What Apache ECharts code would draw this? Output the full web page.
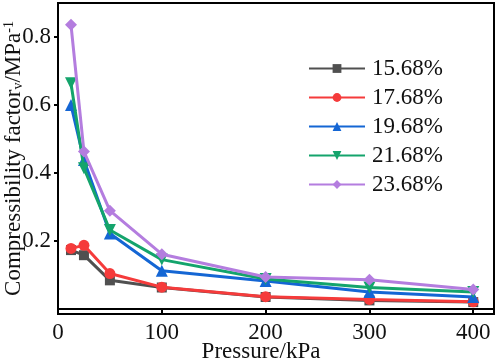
<!DOCTYPE html>
<html>
<head>
<meta charset="utf-8">
<script src="https://cdn.jsdelivr.net/npm/echarts@6/dist/echarts.min.js"></script>
<style>
  html, body { margin: 0; padding: 0; background: #fff; }
  #chart { width: 498px; height: 363px; }
</style>
</head>
<body>
<div id="chart"></div>
<script>
// Pressure steps (kPa)
const pressures = [12.5, 25, 50, 100, 200, 300, 400];

// Compressibility factor per moisture content (MPa^-1)
const seriesNames = ["15.68%", "17.68%", "19.68%", "21.68%", "23.68%"];
const values1568 = [0.173, 0.158, 0.084, 0.063, 0.035, 0.025, 0.020];
const values1768 = [0.178, 0.187, 0.104, 0.064, 0.036, 0.028, 0.021];
const values1968 = [0.600, 0.438, 0.222, 0.112, 0.082, 0.050, 0.035];
const values2168 = [0.664, 0.414, 0.232, 0.145, 0.088, 0.063, 0.050];
const values2368 = [0.836, 0.463, 0.289, 0.161, 0.094, 0.086, 0.057];

const yTickValues = [0.2, 0.4, 0.6, 0.8];

const colors = ["#505050", "#f53b3b", "#1466d4", "#14a46c", "#b47ddf"];
const symbols = ["rect", "circle", "triangle", "path://M0,0 L10,0 L5,9 Z", "diamond"];
const symbolSizes = [10, 11, 12, 12, 12];
const allValues = [values1568, values1768, values1968, values2168, values2368];

const font = "Liberation Serif";

const series = seriesNames.map((name, i) => ({
  name: name,
  type: "line",
  data: pressures.map((p, j) => [p, allValues[i][j]]),
  symbol: symbols[i],
  symbolSize: symbolSizes[i],
  showAllSymbol: true,
  z: 2 + i,
  lineStyle: { color: colors[i], width: 3 },
  itemStyle: { color: colors[i] },
}));

const chart = echarts.init(document.getElementById("chart"), null, { renderer: "canvas" });

chart.setOption({
  animation: false,
  grid: {
    left: 58, right: 4, top: 3, bottom: 49,
    containLabel: false,
    outerBoundsMode: "none",
    show: true, borderColor: "#000", borderWidth: 2, backgroundColor: "transparent",
  },
  legend: {
    data: seriesNames,
    orient: "vertical",
    left: 303,
    top: 52,
    itemWidth: 56,
    itemHeight: 11,
    itemGap: 6,
    textStyle: { fontFamily: font, fontSize: 23, color: "#111", padding: [0, 0, 0, 2] },
  },
  xAxis: {
    type: "value",
    min: 0,
    max: 420,
    interval: 100,
    name: "Pressure/kPa",
    nameLocation: "middle",
    nameGap: 26,
    nameMoveOverlap: false,
    nameTextStyle: { fontFamily: font, fontSize: 23, color: "#111", padding: [0, 30, 0, 0] },
    axisLine: { show: true, lineStyle: { color: "#000", width: 2 } },
    axisTick: { show: true, length: 4, lineStyle: { color: "#000", width: 2 } },
    axisLabel: { fontFamily: font, fontSize: 23, color: "#111", margin: 7 },
    splitLine: { show: false },
  },
  yAxis: {
    type: "value",
    min: -0.015,
    max: 0.9,
    name: "{n|Compressibility factor}{s|v}{n|/MPa}{p|-1}",
    nameLocation: "middle",
    nameRotate: 90,
    nameGap: 33,
    nameMoveOverlap: false,
    nameTextStyle: {
      fontFamily: font, fontSize: 23, color: "#111",
      rich: {
        n: { fontFamily: font, fontSize: 23, color: "#111" },
        s: { fontFamily: font, fontSize: 14, color: "#111", verticalAlign: "bottom", padding: [8, 0, 0, 0] },
        p: { fontFamily: font, fontSize: 14, color: "#111", verticalAlign: "top", padding: [0, 0, 8, 0] },
      },
    },
    axisLine: { show: true, lineStyle: { color: "#000", width: 2 } },
    axisTick: { show: true, length: 4, customValues: yTickValues, lineStyle: { color: "#000", width: 2 } },
    axisLabel: {
      fontFamily: font, fontSize: 23, color: "#111", margin: 7,
      customValues: yTickValues,
      formatter: (v) => v.toFixed(1),
    },
    splitLine: { show: false },
  },
  series: series,
});
</script>
</body>
</html>
